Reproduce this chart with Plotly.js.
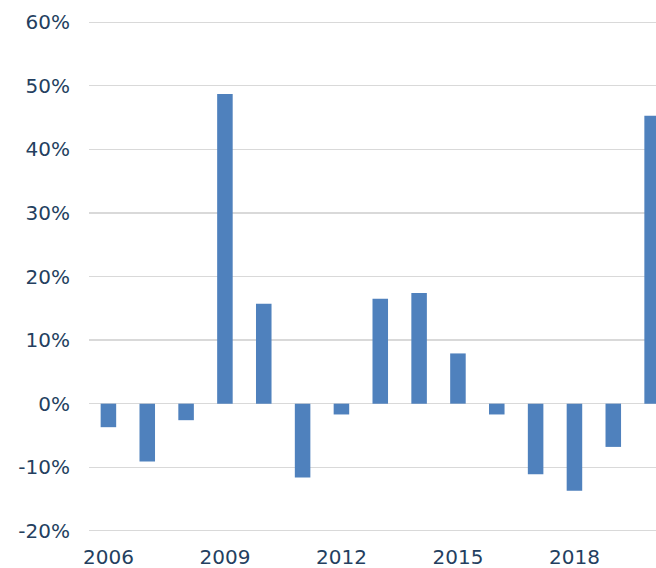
<!DOCTYPE html>
<html>
<head>
<meta charset="utf-8">
<script src="https://cdn.plot.ly/plotly-3.0.1.min.js"></script>
<style>
  html, body { margin: 0; padding: 0; background: #fff; }
  #chart { width: 656px; height: 568px; }
</style>
</head>
<body>
<div id="chart"></div>
<script>
// yearly change, in percent
const years = [2006, 2007, 2008, 2009, 2010, 2011, 2012, 2013, 2014, 2015, 2016, 2017, 2018, 2019, 2020];
const changes = [-3.7, -9.1, -2.6, 48.7, 15.7, -11.6, -1.7, 16.5, 17.4, 7.9, -1.7, -11.1, -13.7, -6.8, 45.3];
const yTicks = [-20, -10, 0, 10, 20, 30, 40, 50, 60];

const axisFont = { family: 'Verdana, "DejaVu Sans", sans-serif', size: 20, color: '#243f60' };

const trace = {
    x: years,
    y: changes,
    type: 'bar',
    width: 0.4,
    marker: { color: '#4f81bd', line: { width: 0 } },
    hoverinfo: 'x+y'
};

const layout = {
    width: 656,
    height: 568,
    margin: { l: 89, r: 0, t: 19, b: 34 },
    paper_bgcolor: '#ffffff',
    plot_bgcolor: '#ffffff',
    showlegend: false,
    xaxis: {
        range: [2005.5, 2020.1],
        tickmode: 'array',
        tickvals: [2006, 2009, 2012, 2015, 2018],
        ticktext: ['2006', '2009', '2012', '2015', '2018'],
        showgrid: false,
        zeroline: false,
        showline: false,
        ticks: '',
        ticklabelstandoff: 9,
        tickfont: axisFont
    },
    yaxis: {
        range: [-20.5, 60.5],
        tickmode: 'array',
        tickvals: yTicks,
        ticktext: yTicks.map(v => v + '%'),
        showgrid: true,
        gridcolor: '#d9d9d9',
        gridwidth: 1.3,
        zeroline: true,
        zerolinecolor: '#d9d9d9',
        zerolinewidth: 1.5,
        showline: false,
        ticks: '',
        ticklabelstandoff: 18,
        tickfont: axisFont
    },
    bargap: 0.6
};

Plotly.newPlot('chart', [trace], layout, { displayModeBar: false, staticPlot: true });
</script>
</body>
</html>
